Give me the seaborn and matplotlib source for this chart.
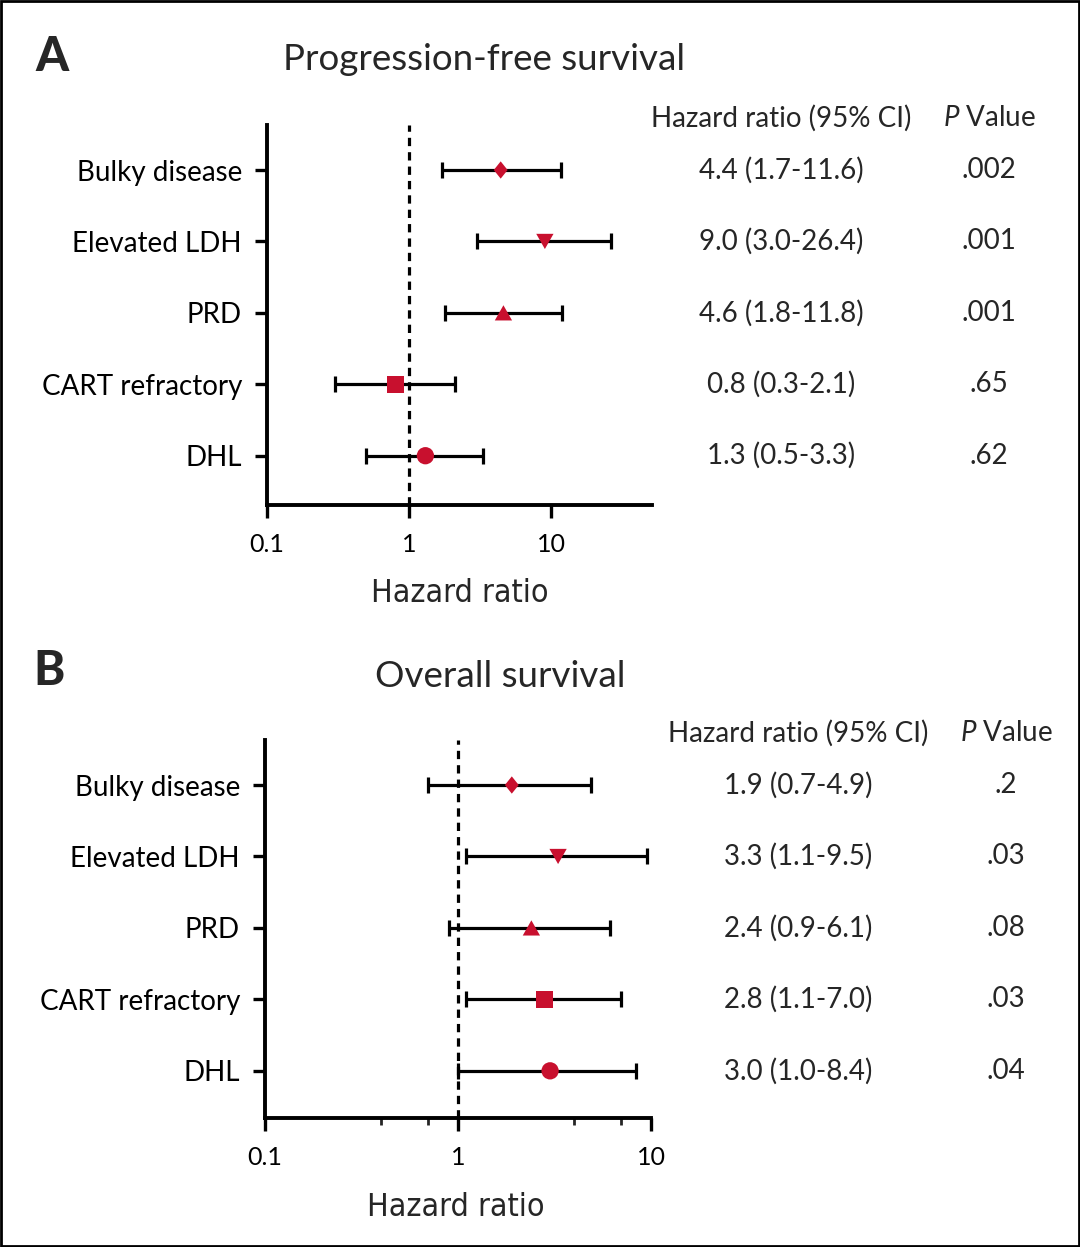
import numpy as np
import pandas as pd
import matplotlib
matplotlib.use("Agg")
import matplotlib.pyplot as plt
import matplotlib.transforms as mtransforms
from matplotlib.patches import Rectangle
from matplotlib.ticker import FixedLocator, NullFormatter, FixedFormatter
import seaborn as sns

# ---------------- data ----------------
factors = ["Bulky disease", "Elevated LDH", "PRD", "CART refractory", "DHL"]

pfs_hr = [4.4, 9.0, 4.6, 0.8, 1.3]
pfs_lo = [1.7, 3.0, 1.8, 0.3, 0.5]
pfs_hi = [11.6, 26.4, 11.8, 2.1, 3.3]
pfs_p = [".002", ".001", ".001", ".65", ".62"]

os_hr = [1.9, 3.3, 2.4, 2.8, 3.0]
os_lo = [0.7, 1.1, 0.9, 1.1, 1.0]
os_hi = [4.9, 9.5, 6.1, 7.0, 8.4]
os_p = [".2", ".03", ".08", ".03", ".04"]

xticks = [0.1, 1, 10]
xticklabels = ["0.1", "1", "10"]

# marker styles (diamond, down/up triangles, square, circle)
marker_styles = [
    [(-0.8, 0), (0, 1), (0.8, 0), (0, -1)],
    [(0, -0.88), (-1, 0.88), (1, 0.88)],
    [(0, 0.88), (-1, -0.88), (1, -0.88)],
    "s",
    "o",
]

sns.set_theme(style="ticks")
plt.rcParams["font.family"] = ["Lato", "DejaVu Sans"]
plt.rcParams["mathtext.fontset"] = "custom"
plt.rcParams["mathtext.it"] = "Lato:italic"
plt.rcParams["mathtext.rm"] = "Lato"

RED = "#C8102E"
W, H = 1080, 1247
fig = plt.figure(figsize=(W / 100, H / 100), dpi=100)


def ax_rect(l, r, t, b):
    return [l / W, 1 - b / H, (r - l) / W, (b - t) / H]


def fmt_ci(h, lo, hi):
    return f"{h:.1f} ({lo:.1f}-{hi:.1f})"


def panel(rect, hr, lo, hi, pv, xlim, ylim, minor, title, title_xy, letter,
          label_y, col1_x, col2_x, head_y, xlabel_x):
    ax = fig.add_axes(rect)
    df = pd.DataFrame({"factor": factors, "hr": hr, "lo": lo, "hi": hi,
                       "y": np.arange(len(factors))})
    ax.errorbar(df["hr"], df["y"],
                xerr=[df["hr"] - df["lo"], df["hi"] - df["hr"]],
                fmt="none", ecolor="black", elinewidth=2.3, capsize=5.5,
                capthick=2.3, zorder=2)
    sns.scatterplot(data=df, x="hr", y="y", style="factor",
                    markers=dict(zip(factors, marker_styles)), color=RED,
                    s=155, edgecolor=RED, linewidth=0, ax=ax, legend=False,
                    zorder=3)
    ax.axvline(1, color="black", lw=2.3, ls=(0, (2.6, 1.9)), zorder=1)
    ax.set_xscale("log")
    ax.set_xlim(*xlim)
    ax.set_ylim(*ylim)
    ax.xaxis.set_major_locator(FixedLocator(xticks))
    ax.xaxis.set_major_formatter(FixedFormatter(xticklabels))
    ax.xaxis.set_minor_locator(FixedLocator(minor))
    ax.xaxis.set_minor_formatter(NullFormatter())
    ax.set_yticks(df["y"])
    ax.set_yticklabels(factors)
    for s in ["top", "right"]:
        ax.spines[s].set_visible(False)
    for s in ["left", "bottom"]:
        ax.spines[s].set_linewidth(2.8)
        ax.spines[s].set_color("black")
    ax.tick_params(axis="y", length=9, width=2.4, labelsize=20, pad=9,
                   colors="black")
    ax.tick_params(axis="x", which="major", length=9, width=2.4,
                   labelsize=18, pad=11, colors="black")
    ax.tick_params(axis="x", which="minor", length=5, width=2.0)
    ax.set_xlabel("")
    ax.set_ylabel("")
    ax.set_facecolor("white")

    fig.text(xlabel_x / W, 1 - label_y / H, "Hazard ratio", ha="center",
             va="center", fontsize=23, fontstretch="condensed",
             family=["Liberation Sans Narrow", "DejaVu Sans"])
    fig.text(title_xy[0] / W, 1 - title_xy[1] / H, title, ha="center",
             va="center", fontsize=26.5)
    fig.text(letter[0] / W, 1 - letter[1] / H, letter[2],
             ha="center", va="center", fontsize=34, fontweight="black")

    tr = mtransforms.blended_transform_factory(fig.transFigure, ax.transData)
    fig.text(col1_x / W, 1 - head_y / H, "Hazard ratio (95% CI)", ha="center",
             va="center", fontsize=20)
    fig.text(col2_x / W, 1 - head_y / H, r"$\it{P}$ Value", ha="center",
             va="center", fontsize=20)
    for i in range(len(factors)):
        ax.text(col1_x / W, i, fmt_ci(hr[i], lo[i], hi[i]), transform=tr,
                ha="center", va="center", fontsize=20)
        ax.text(col2_x / W, i, pv[i], transform=tr, ha="center",
                va="center", fontsize=20)
    return ax


panel(ax_rect(267, 652, 125, 505), pfs_hr, pfs_lo, pfs_hi, pfs_p,
      (0.1, 51), (4.69, -0.63), [], "Progression-free survival",
      (484, 60), (52, 57, "A"), 593, 781, 989, 118, 460)
panel(ax_rect(265, 651, 740, 1118), os_hr, os_lo, os_hi, os_p,
      (0.1, 10), (4.66, -0.63), [0.4, 0.7, 4, 7], "Overall survival",
      (500, 676), (49, 671, "B"), 1208, 798, 1006, 733, 456)

fig.patches.append(Rectangle((0.001, 0.001), 0.998, 0.998,
                             transform=fig.transFigure, fill=False,
                             edgecolor="black", lw=2))

fig.savefig("out.png", dpi=100, facecolor="white")
